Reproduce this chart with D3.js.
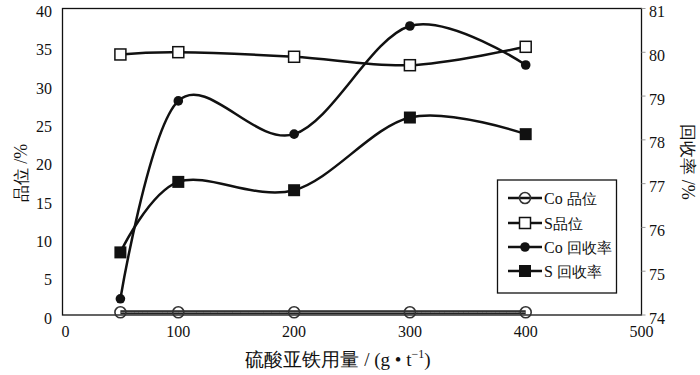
<!DOCTYPE html>
<html><head><meta charset="utf-8">
<script src="https://cdn.jsdelivr.net/npm/d3@7/dist/d3.min.js"></script>
<style>
body{margin:0;background:#fff;}
</style></head>
<body><svg id="c" width="700" height="375" font-family="Liberation Serif"></svg>
<script>
const doses = [50, 100, 200, 300, 400];
const coGrade = [0.35, 0.35, 0.35, 0.35, 0.35];
const sGrade = [34.0, 34.3, 33.7, 32.6, 35.0];
const coRecovery = [74.37, 78.89, 78.13, 80.6, 79.71];
const sRecovery = [75.43, 77.04, 76.85, 78.51, 78.13];
const xTicks = [0, 100, 200, 300, 400, 500];
const yLeftTicks = [0, 5, 10, 15, 20, 25, 30, 35, 40];
const yRightTicks = [74, 75, 76, 77, 78, 79, 80, 81];
const legendLabels = ["Co 品位", "S品位", "Co 回收率", "S 回收率"];

const SERIF = "Liberation Serif";
const svg = d3.select("#c");
const L = 62.5, R = 641.5, T = 8.5, B = 315;
const x = d3.scaleLinear().domain([0, 500]).range([L, R]);
const yL = d3.scaleLinear().domain([0, 40]).range([B, T]);
const yR = d3.scaleLinear().domain([74, 81]).range([B, T]);

// frame
svg.append("rect").attr("x", L).attr("y", T).attr("width", R - L).attr("height", B - T)
  .attr("fill", "none").attr("stroke", "#111").attr("stroke-width", 1.3);

// left labels
svg.append("g").selectAll("text").data(yLeftTicks).join("text")
  .attr("font-family", SERIF).attr("fill", "#111")
  .attr("x", 52).attr("y", d => yL(d) + 3).attr("dy", "0.35em")
  .attr("text-anchor", "end").attr("font-size", 16).text(d => d);

// right axis ticks + labels
const gr = svg.append("g");
gr.selectAll("line").data(yRightTicks).join("line")
  .attr("x1", R).attr("x2", R + 4).attr("y1", d => yR(d)).attr("y2", d => yR(d))
  .attr("stroke", "#999").attr("stroke-width", 1);
gr.selectAll("text").data(yRightTicks).join("text")
  .attr("font-family", SERIF).attr("fill", "#111")
  .attr("x", 649).attr("y", d => yR(d) + 3).attr("dy", "0.35em")
  .attr("font-size", 16).text(d => d);

// bottom labels
svg.append("g").selectAll("text").data(xTicks).join("text")
  .attr("font-family", SERIF).attr("fill", "#111")
  .attr("x", d => x(d) + (d === 0 ? 3 : 0)).attr("y", 337)
  .attr("text-anchor", "middle").attr("font-size", 16).text(d => d);

// titles
const xt = svg.append("text").attr("x", 338).attr("y", 366).attr("text-anchor", "middle")
  .attr("font-size", 19).attr("font-family", SERIF).attr("fill", "#111");
xt.append("tspan").attr("font-size", 19).text("硫酸亚铁用量");
xt.append("tspan").text(" / (g • t");
xt.append("tspan").attr("dy", -8).attr("font-size", 12).text("−1");
xt.append("tspan").attr("dy", 8).text(")");

const lt = svg.append("text").attr("transform", "translate(27,173) rotate(-90)")
  .attr("text-anchor", "middle").attr("font-size", 18).attr("font-family", SERIF).attr("fill", "#111");
lt.append("tspan").attr("font-size", 17).text("品位");
lt.append("tspan").text(" /%");

const rt = svg.append("text").attr("transform", "translate(682,162) rotate(90)")
  .attr("text-anchor", "middle").attr("font-size", 18).attr("font-family", SERIF).attr("fill", "#111");
rt.append("tspan").attr("font-size", 17).text("回收率");
rt.append("tspan").text(" /%");

const curve = d3.curveCardinal.tension(0);
const series = [
  {vals: coGrade, y: yL, marker: "circleOpen"},
  {vals: sGrade, y: yL, marker: "squareOpen"},
  {vals: coRecovery, y: yR, marker: "circle"},
  {vals: sRecovery, y: yR, marker: "square"}
];

function drawMarker(g, type, cx, cy) {
  if (type === "circleOpen") {
    g.append("circle").attr("cx", cx).attr("cy", cy).attr("r", 5.5)
      .attr("fill", "none").attr("stroke", "#333").attr("stroke-width", 1.6);
  } else if (type === "circle") {
    g.append("circle").attr("cx", cx).attr("cy", cy).attr("r", 4.8).attr("fill", "#111");
  } else if (type === "squareOpen") {
    g.append("rect").attr("x", cx - 5.5).attr("y", cy - 5.5).attr("width", 11).attr("height", 11)
      .attr("fill", "#fff").attr("stroke", "#111").attr("stroke-width", 1.5);
  } else {
    g.append("rect").attr("x", cx - 6).attr("y", cy - 6).attr("width", 12).attr("height", 12)
      .attr("fill", "#111");
  }
}

series.forEach(s => {
  const pts = doses.map((d, i) => [x(d), s.y(s.vals[i])]);
  const line = d3.line().curve(curve);
  if (s.marker === "circleOpen") {
    svg.append("path").attr("d", line(pts)).attr("fill", "none")
      .attr("stroke", "#222").attr("stroke-width", 4);
    svg.append("path").attr("d", line(pts)).attr("fill", "none")
      .attr("stroke", "#888").attr("stroke-width", 1);
  } else {
    svg.append("path").attr("d", line(pts)).attr("fill", "none")
      .attr("stroke", "#111").attr("stroke-width", 2.5);
  }
  const g = svg.append("g");
  pts.forEach(p => drawMarker(g, s.marker, p[0], p[1]));
});

// legend
const lg = svg.append("g");
lg.append("rect").attr("x", 497.5).attr("y", 180).attr("width", 119).attr("height", 113)
  .attr("fill", "#fff").attr("stroke", "#111").attr("stroke-width", 1.3);
const ly = [198, 223, 247, 271];
legendLabels.forEach((lab, i) => {
  const yy = ly[i];
  lg.append("line").attr("x1", 508).attr("x2", 542).attr("y1", yy).attr("y2", yy)
    .attr("stroke", "#111").attr("stroke-width", 2.5);
  drawMarker(lg, series[i].marker, 525, yy);
  const latin = lab.match(/^[A-Za-z ]+/);
  const lat = latin ? latin[0] : "";
  const t = lg.append("text").attr("x", 544).attr("y", yy).attr("dy", "0.35em")
    .attr("font-size", 16).attr("font-family", SERIF).attr("fill", "#111");
  t.append("tspan").text(lat);
  t.append("tspan").attr("font-size", 15).text(lab.slice(lat.length));
});
</script></body></html>
